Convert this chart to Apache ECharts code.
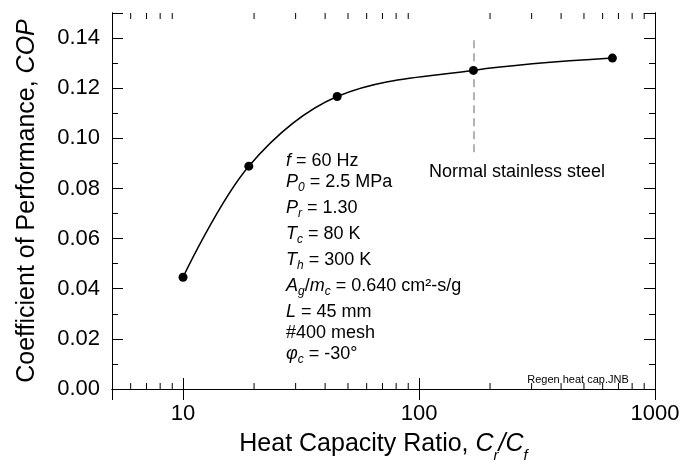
<!DOCTYPE html>
<html>
<head>
<meta charset="utf-8">
<script src="https://cdn.jsdelivr.net/npm/echarts@6/dist/echarts.min.js"></script>
<style>
html,body{margin:0;padding:0;background:#fff;}
#chart{width:683px;height:468px;}
</style>
</head>
<body>
<div id="chart"></div>
<script>
// heat capacity ratio Cr/Cf and COP
var ratio = [10, 19, 45, 170, 660];
var cop = [0.0446, 0.0889, 0.1167, 0.1271, 0.132];
// minor log ticks
var minorX = [6, 7, 8, 9, 20, 30, 40, 50, 60, 70, 80, 90, 200, 300, 400, 500, 600, 700, 800, 900];
var majorX = [10, 100, 1000];
// dashed marker for normal stainless steel
var steelX = 170;
var steelY = [0.0944, 0.1405];

var font = '"Liberation Sans", Arial, sans-serif';
var black = '#000';

var chart = echarts.init(document.getElementById('chart'));

var noteLines = [
  '{i|f}{n| = 60 Hz}',
  '{i|P}{sub|0}{n| = 2.5 MPa}',
  '{i|P}{sub|r}{n| = 1.30}',
  '{i|T}{sub|c}{n| = 80 K}',
  '{i|T}{sub|h}{n| = 300 K}',
  '{i|A}{sub|g}{n|/}{i|m}{sub|c}{n| = 0.640 cm²-s/g}',
  '{i|L}{n| = 45 mm}',
  '{n|#400 mesh}',
  '{i|φ}{sub|c}{n| = -30°}'
];

function yAxisOf(pos, step, tickLen, labels) {
  return {
    type: 'value', position: pos, min: 0, max: 0.15, interval: step,
    axisLine: { show: true, lineStyle: { color: black, width: 1 } },
    axisTick: { show: true, inside: true, length: tickLen, lineStyle: { color: black, width: 1 } },
    splitLine: { show: false },
    axisLabel: {
      show: labels, color: black, fontSize: 22, fontFamily: font, margin: 12,
      formatter: function (v) { return v > 0.145 ? '' : v.toFixed(2); }
    }
  };
}

function xAxisOf(pos, labels) {
  return {
    type: 'log', logBase: 10, position: pos, min: 5, max: 1000,
    axisLine: { show: true, lineStyle: { color: black, width: 1 } },
    axisTick: { show: true, inside: true, length: 11, lineStyle: { color: black, width: 1 } },
    splitLine: { show: false },
    minorTick: { show: false },
    axisLabel: {
      show: labels, color: black, fontSize: 22, fontFamily: font, margin: 14,
      formatter: function (v) { return majorX.indexOf(Math.round(v)) >= 0 ? String(Math.round(v)) : ''; }
    }
  };
}

var xBottom = xAxisOf('bottom', true);
xBottom.name = '{n|Heat Capacity Ratio, }{i|C}{s|r}{i|/C}{s|f}';
xBottom.nameLocation = 'middle';
xBottom.nameGap = 43;
xBottom.nameTextStyle = {
  color: black, fontFamily: font, fontSize: 25,
  rich: {
    n: { fontSize: 25, fontFamily: font, color: black },
    i: { fontSize: 25, fontFamily: font, color: black, fontStyle: 'italic' },
    s: { fontSize: 15, fontFamily: font, color: black, fontStyle: 'italic', verticalAlign: 'top', lineHeight: 15, padding: [16, 0, 0, 0] }
  }
};

var yLeft = yAxisOf('left', 0.02, 11, true);
yLeft.name = '{n|Coefficient of Performance, }{i|COP}';
yLeft.nameLocation = 'middle';
yLeft.nameRotate = 90;
yLeft.nameGap = 72;
yLeft.nameTextStyle = {
  color: black, fontFamily: font, fontSize: 25,
  rich: {
    n: { fontSize: 25, fontFamily: font, color: black },
    i: { fontSize: 25, fontFamily: font, color: black, fontStyle: 'italic' }
  }
};

chart.setOption({
  animation: false,
  backgroundColor: '#fff',
  grid: { left: 112, right: 28, top: 13, bottom: 77, containLabel: false },
  xAxis: [xBottom, xAxisOf('top', false)],
  yAxis: [
    yLeft,
    yAxisOf('right', 0.02, 11, false),
    yAxisOf('left', 0.01, 6, false),
    yAxisOf('right', 0.01, 6, false)
  ],
  series: [
    {
      type: 'line',
      data: ratio.map(function (x, i) { return [x, cop[i]]; }),
      smooth: 0.35,
      symbol: 'circle',
      symbolSize: 9,
      itemStyle: { color: black },
      lineStyle: { color: black, width: 1.5 },
      z: 5,
      markLine: {
        silent: true,
        symbol: 'none',
        label: { show: false },
        lineStyle: { color: '#999', width: 1.5, type: [8, 5] },
        data: [[{ coord: [steelX, steelY[0]] }, { coord: [steelX, steelY[1]] }]]
      }
    },
    {
      // minor ticks on the log axes (bottom and top)
      type: 'custom',
      silent: true,
      data: minorX.map(function (v) { return [v]; }),
      renderItem: function (params, api) {
        var v = api.value(0);
        var b = api.coord([v, 0]);
        var t = api.coord([v, 0.15]);
        var st = { stroke: black, lineWidth: 1 };
        return {
          type: 'group',
          children: [
            { type: 'line', shape: { x1: b[0], y1: b[1], x2: b[0], y2: b[1] - 6 }, style: st },
            { type: 'line', shape: { x1: t[0], y1: t[1], x2: t[0], y2: t[1] + 6 }, style: st }
          ]
        };
      }
    }
  ],
  graphic: [
    {
      type: 'text', left: 286, top: 152,
      style: {
        text: noteLines.join('\n'),
        fill: black,
        rich: {
          n: { fontSize: 18, fontFamily: font, fill: black, lineHeight: 21, verticalAlign: 'top' },
          i: { fontSize: 18, fontFamily: font, fill: black, fontStyle: 'italic', lineHeight: 21, verticalAlign: 'top' },
          sub: { fontSize: 12, fontFamily: font, fill: black, fontStyle: 'italic', verticalAlign: 'top', lineHeight: 26, padding: [9, 0, 0, 0] }
        }
      }
    },
    {
      type: 'text', x: 517, y: 172,
      style: { text: 'Normal stainless steel', fill: black, fontSize: 18, fontFamily: font, align: 'center', verticalAlign: 'middle' }
    },
    {
      type: 'text', x: 578, y: 380,
      style: { text: 'Regen heat cap.JNB', fill: black, fontSize: 11, fontFamily: font, align: 'center', verticalAlign: 'middle' }
    }
  ]
});
</script>
</body>
</html>
